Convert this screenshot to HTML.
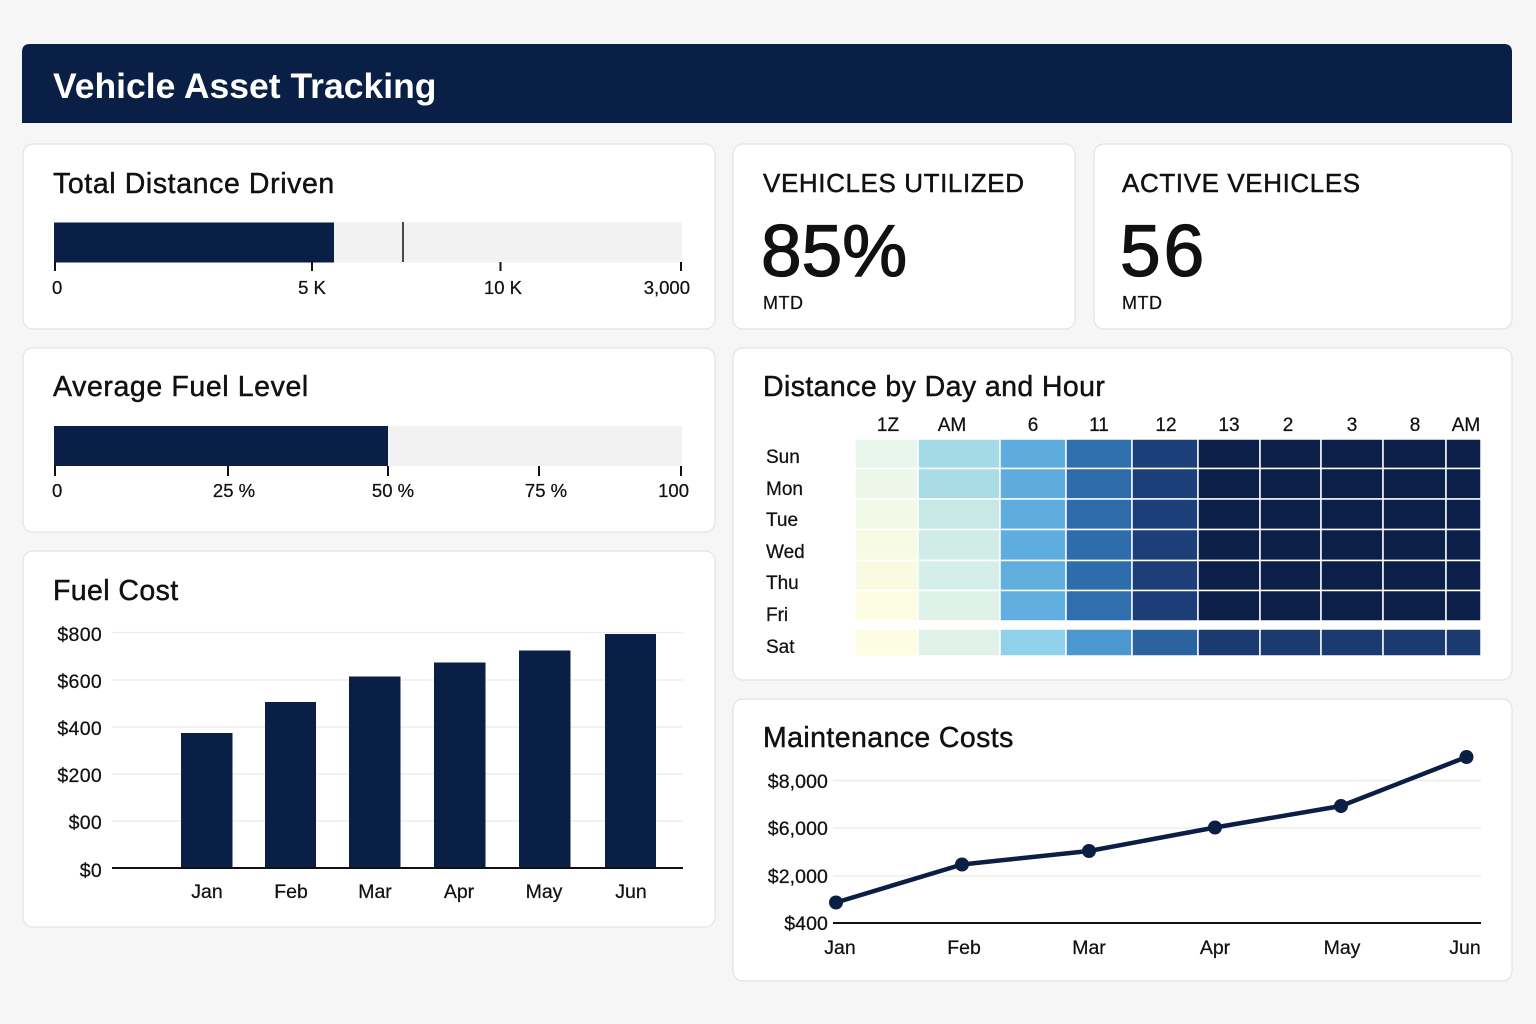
<!DOCTYPE html>
<html><head><meta charset="utf-8"><style>
html,body{margin:0;padding:0;background:#f6f6f6;}
svg{display:block;}
text{font-family:"Liberation Sans",sans-serif;fill:#111;}
.t{stroke:#111;stroke-width:0.45;}
.a{stroke:#111;stroke-width:0.25;}
</style></head><body>
<svg width="1536" height="1024" viewBox="0 0 1536 1024" xmlns="http://www.w3.org/2000/svg">
<rect x="0" y="0" width="1536" height="1024" fill="#f6f6f6"/>
<!-- header -->
<path d="M22,123 L22,52 Q22,44 30,44 L1504,44 Q1512,44 1512,52 L1512,123 Z" fill="#0a1f45"/>
<text x="53" y="98" font-size="35.5" font-weight="bold" style="fill:#fff">Vehicle Asset Tracking</text>

<!-- cards -->
<g fill="#fff" stroke="#e3e3e3" stroke-width="1.2">
<rect x="23" y="144" width="692" height="185" rx="10"/>
<rect x="733" y="144" width="342" height="185" rx="10"/>
<rect x="1094" y="144" width="418" height="185" rx="10"/>
<rect x="23" y="348" width="692" height="184" rx="10"/>
<rect x="733" y="348" width="779" height="332" rx="10"/>
<rect x="23" y="551" width="692" height="376" rx="10"/>
<rect x="733" y="699" width="779" height="282" rx="10"/>
</g>

<!-- Total Distance Driven -->
<text class="t" x="53" y="193" font-size="28.5" letter-spacing="0.6">Total Distance Driven</text>
<rect x="54" y="222.5" width="628" height="40" fill="#f2f2f2"/>
<rect x="54" y="222.5" width="280" height="40" fill="#0a1f45"/>
<line x1="403" y1="222" x2="403" y2="262" stroke="#111" stroke-width="1.5"/>
<g stroke="#111" stroke-width="2">
<line x1="55" y1="262" x2="55" y2="271"/>
<line x1="312" y1="262" x2="312" y2="271"/>
<line x1="500.5" y1="262" x2="500.5" y2="271"/>
<line x1="681" y1="262" x2="681" y2="271"/>
</g>
<g font-size="18.5" class="a">
<text x="52" y="294">0</text>
<text x="312" y="294" text-anchor="middle">5 K</text>
<text x="503" y="294" text-anchor="middle">10 K</text>
<text x="690" y="294" text-anchor="end">3,000</text>
</g>

<!-- Vehicles utilized -->
<text class="t" x="763" y="192" font-size="26" letter-spacing="0.6">VEHICLES UTILIZED</text>
<text x="761" y="276" font-size="73" stroke="#111" stroke-width="1.3">85%</text>
<text class="a" x="763" y="309" font-size="18" letter-spacing="0.5">MTD</text>

<!-- Active vehicles -->
<text class="t" x="1122" y="192" font-size="26" letter-spacing="0.6">ACTIVE VEHICLES</text>
<text x="1120" y="276" font-size="73" stroke="#111" stroke-width="1.3" letter-spacing="3">56</text>
<text class="a" x="1122" y="309" font-size="18" letter-spacing="0.5">MTD</text>

<!-- Average Fuel Level -->
<text class="t" x="53" y="396" font-size="28.5" letter-spacing="0.6">Average Fuel Level</text>
<rect x="54" y="426" width="628" height="40" fill="#f2f2f2"/>
<rect x="54" y="426" width="334" height="40" fill="#0a1f45"/>
<g stroke="#111" stroke-width="2">
<line x1="55" y1="466" x2="55" y2="476"/>
<line x1="228" y1="466" x2="228" y2="476"/>
<line x1="388" y1="466" x2="388" y2="476"/>
<line x1="539" y1="466" x2="539" y2="476"/>
<line x1="681" y1="466" x2="681" y2="476"/>
</g>
<g font-size="18.5" class="a">
<text x="52" y="497">0</text>
<text x="234" y="497" text-anchor="middle">25 %</text>
<text x="393" y="497" text-anchor="middle">50 %</text>
<text x="546" y="497" text-anchor="middle">75 %</text>
<text x="689" y="497" text-anchor="end">100</text>
</g>

<!-- Heatmap -->
<text class="t" x="763" y="396" font-size="28.5" letter-spacing="0.4">Distance by Day and Hour</text>
<g font-size="19" text-anchor="middle" class="a">
<text x="888" y="431">1Z</text>
<text x="952" y="431">AM</text>
<text x="1033" y="431">6</text>
<text x="1099" y="431">11</text>
<text x="1166" y="431">12</text>
<text x="1229" y="431">13</text>
<text x="1288" y="431">2</text>
<text x="1352" y="431">3</text>
<text x="1415" y="431">8</text>
<text x="1466" y="431">AM</text>
</g>
<g font-size="19" class="a">
<text x="766" y="463">Sun</text>
<text x="766" y="495">Mon</text>
<text x="766" y="526">Tue</text>
<text x="766" y="558">Wed</text>
<text x="766" y="589">Thu</text>
<text x="766" y="621">Fri</text>
<text x="766" y="653">Sat</text>
</g>
<g stroke="#ffffff" stroke-width="1.5">
<!-- Sun -->
<rect x="855" y="439" width="63" height="29.5" fill="#e7f5ec"/>
<rect x="918" y="439" width="82" height="29.5" fill="#a3dae6"/>
<rect x="1000" y="439" width="66" height="29.5" fill="#5eacdd"/>
<rect x="1066" y="439" width="66" height="29.5" fill="#2f6fae"/>
<rect x="1132" y="439" width="66" height="29.5" fill="#1c3f7a"/>
<rect x="1198" y="439" width="62" height="29.5" fill="#0b1f48"/>
<rect x="1260" y="439" width="61" height="29.5" fill="#0b1f48"/>
<rect x="1321" y="439" width="62" height="29.5" fill="#0b1f48"/>
<rect x="1383" y="439" width="63" height="29.5" fill="#0b1f48"/>
<rect x="1446" y="439" width="35" height="29.5" fill="#0b1f48"/>
<!-- Mon -->
<rect x="855" y="468.5" width="63" height="30.5" fill="#edf7e9"/>
<rect x="918" y="468.5" width="82" height="30.5" fill="#a9dce5"/>
<rect x="1000" y="468.5" width="66" height="30.5" fill="#5eacdd"/>
<rect x="1066" y="468.5" width="66" height="30.5" fill="#2d6bab"/>
<rect x="1132" y="468.5" width="66" height="30.5" fill="#1c3f7a"/>
<rect x="1198" y="468.5" width="62" height="30.5" fill="#0b1f48"/>
<rect x="1260" y="468.5" width="61" height="30.5" fill="#0b1f48"/>
<rect x="1321" y="468.5" width="62" height="30.5" fill="#0b1f48"/>
<rect x="1383" y="468.5" width="63" height="30.5" fill="#0b1f48"/>
<rect x="1446" y="468.5" width="35" height="30.5" fill="#0b1f48"/>
<!-- Tue -->
<rect x="855" y="499" width="63" height="30.5" fill="#f2f9e6"/>
<rect x="918" y="499" width="82" height="30.5" fill="#c6e8e7"/>
<rect x="1000" y="499" width="66" height="30.5" fill="#5fadde"/>
<rect x="1066" y="499" width="66" height="30.5" fill="#2d6bab"/>
<rect x="1132" y="499" width="66" height="30.5" fill="#1d3f79"/>
<rect x="1198" y="499" width="62" height="30.5" fill="#0b1f48"/>
<rect x="1260" y="499" width="61" height="30.5" fill="#0b1f48"/>
<rect x="1321" y="499" width="62" height="30.5" fill="#0b1f48"/>
<rect x="1383" y="499" width="63" height="30.5" fill="#0b1f48"/>
<rect x="1446" y="499" width="35" height="30.5" fill="#0b1f48"/>
<!-- Wed -->
<rect x="855" y="529.5" width="63" height="31" fill="#f7fbe3"/>
<rect x="918" y="529.5" width="82" height="31" fill="#d0ece7"/>
<rect x="1000" y="529.5" width="66" height="31" fill="#5fadde"/>
<rect x="1066" y="529.5" width="66" height="31" fill="#2e6cab"/>
<rect x="1132" y="529.5" width="66" height="31" fill="#1d3f79"/>
<rect x="1198" y="529.5" width="62" height="31" fill="#0b1f48"/>
<rect x="1260" y="529.5" width="61" height="31" fill="#0b1f48"/>
<rect x="1321" y="529.5" width="62" height="31" fill="#0b1f48"/>
<rect x="1383" y="529.5" width="63" height="31" fill="#0b1f48"/>
<rect x="1446" y="529.5" width="35" height="31" fill="#0b1f48"/>
<!-- Thu -->
<rect x="855" y="560.5" width="63" height="30" fill="#f8fbe1"/>
<rect x="918" y="560.5" width="82" height="30" fill="#d5eee7"/>
<rect x="1000" y="560.5" width="66" height="30" fill="#5faede"/>
<rect x="1066" y="560.5" width="66" height="30" fill="#2e6dac"/>
<rect x="1132" y="560.5" width="66" height="30" fill="#1d3e78"/>
<rect x="1198" y="560.5" width="62" height="30" fill="#0b1f48"/>
<rect x="1260" y="560.5" width="61" height="30" fill="#0b1f48"/>
<rect x="1321" y="560.5" width="62" height="30" fill="#0b1f48"/>
<rect x="1383" y="560.5" width="63" height="30" fill="#0b1f48"/>
<rect x="1446" y="560.5" width="35" height="30" fill="#0b1f48"/>
<!-- Fri -->
<rect x="855" y="590.5" width="63" height="30.5" fill="#fcfde2"/>
<rect x="918" y="590.5" width="82" height="30.5" fill="#def2e8"/>
<rect x="1000" y="590.5" width="66" height="30.5" fill="#60aedf"/>
<rect x="1066" y="590.5" width="66" height="30.5" fill="#2f6fae"/>
<rect x="1132" y="590.5" width="66" height="30.5" fill="#1c3d77"/>
<rect x="1198" y="590.5" width="62" height="30.5" fill="#0b1f48"/>
<rect x="1260" y="590.5" width="61" height="30.5" fill="#0b1f48"/>
<rect x="1321" y="590.5" width="62" height="30.5" fill="#0b1f48"/>
<rect x="1383" y="590.5" width="63" height="30.5" fill="#0b1f48"/>
<rect x="1446" y="590.5" width="35" height="30.5" fill="#0b1f48"/>
<!-- Sat -->
<rect x="855" y="629" width="63" height="27" fill="#fdfde4"/>
<rect x="918" y="629" width="82" height="27" fill="#e1f3e9"/>
<rect x="1000" y="629" width="66" height="27" fill="#8fd1ea"/>
<rect x="1066" y="629" width="66" height="27" fill="#4b98d0"/>
<rect x="1132" y="629" width="66" height="27" fill="#2a63a0"/>
<rect x="1198" y="629" width="62" height="27" fill="#1b3a6f"/>
<rect x="1260" y="629" width="61" height="27" fill="#1b3a6f"/>
<rect x="1321" y="629" width="62" height="27" fill="#1b3a6f"/>
<rect x="1383" y="629" width="63" height="27" fill="#1b3a6f"/>
<rect x="1446" y="629" width="35" height="27" fill="#1b3a6f"/>
</g>

<!-- Fuel Cost -->
<text class="t" x="53" y="600" font-size="28.5" letter-spacing="0.4">Fuel Cost</text>
<g stroke="#ebebeb" stroke-width="1.2">
<line x1="112" y1="632.5" x2="683" y2="632.5"/>
<line x1="112" y1="680" x2="683" y2="680"/>
<line x1="112" y1="727" x2="683" y2="727"/>
<line x1="112" y1="774" x2="683" y2="774"/>
<line x1="112" y1="821" x2="683" y2="821"/>
</g>
<g font-size="19.5" text-anchor="end" letter-spacing="0.3" class="a">
<text x="102" y="641">$800</text>
<text x="102" y="688">$600</text>
<text x="102" y="735">$400</text>
<text x="102" y="782">$200</text>
<text x="102" y="829">$00</text>
<text x="102" y="877">$0</text>
</g>
<g fill="#0a1f45">
<rect x="181" y="733" width="51.5" height="135"/>
<rect x="265" y="702" width="51" height="166"/>
<rect x="349" y="676.5" width="51.5" height="191.5"/>
<rect x="434" y="662.5" width="51.5" height="205.5"/>
<rect x="519" y="650.5" width="51.5" height="217.5"/>
<rect x="605" y="634" width="51" height="234"/>
</g>
<line x1="112" y1="868" x2="683" y2="868" stroke="#111" stroke-width="2"/>
<g font-size="19.5" text-anchor="middle" class="a">
<text x="207" y="898">Jan</text>
<text x="291" y="898">Feb</text>
<text x="375" y="898">Mar</text>
<text x="459" y="898">Apr</text>
<text x="544" y="898">May</text>
<text x="631" y="898">Jun</text>
</g>

<!-- Maintenance Costs -->
<text class="t" x="763" y="747" font-size="28.5" letter-spacing="0.4">Maintenance Costs</text>
<g stroke="#ebebeb" stroke-width="1.2">
<line x1="833" y1="780.5" x2="1481" y2="780.5"/>
<line x1="833" y1="828" x2="1481" y2="828"/>
<line x1="833" y1="876" x2="1481" y2="876"/>
</g>
<line x1="833" y1="923" x2="1481" y2="923" stroke="#111" stroke-width="2"/>
<g font-size="19.5" text-anchor="end" letter-spacing="0.1" class="a">
<text x="828" y="788">$8,000</text>
<text x="828" y="835">$6,000</text>
<text x="828" y="883">$2,000</text>
<text x="828" y="930">$400</text>
</g>
<polyline points="836,902.5 962,864.5 1089,851 1215,827.5 1341,806 1466.5,757" fill="none" stroke="#0b1f45" stroke-width="4.5" stroke-linejoin="round"/>
<g fill="#0b1f45">
<circle cx="836" cy="902.5" r="7"/>
<circle cx="962" cy="864.5" r="7"/>
<circle cx="1089" cy="851" r="7"/>
<circle cx="1215" cy="827.5" r="7"/>
<circle cx="1341" cy="806" r="7"/>
<circle cx="1466.5" cy="757" r="7"/>
</g>
<g font-size="19.5" text-anchor="middle" class="a">
<text x="840" y="954">Jan</text>
<text x="964" y="954">Feb</text>
<text x="1089" y="954">Mar</text>
<text x="1215" y="954">Apr</text>
<text x="1342" y="954">May</text>
<text x="1465" y="954">Jun</text>
</g>
</svg>
</body></html>
